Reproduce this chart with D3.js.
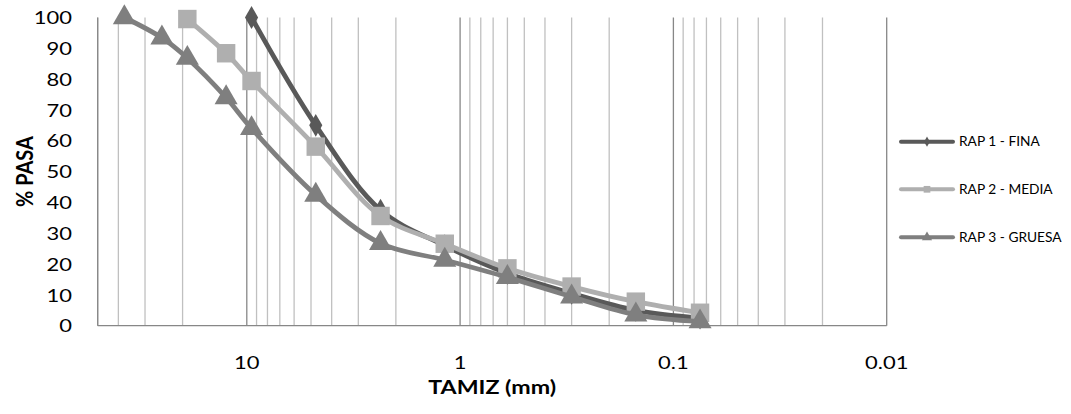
<!DOCTYPE html>
<html>
<head>
<meta charset="utf-8">
<style>
  body { margin: 0; background: white; font-family: Lato, "Open Sans", sans-serif; }
  svg text { fill: #000; }
</style>
<script src="https://cdn.jsdelivr.net/npm/d3@7"></script>
</head>
<body>
<svg id="chart" width="1071" height="414"></svg>
<script>
// sieve sizes (mm)
const tamiz = [37.5, 25, 19, 12.5, 9.5, 4.75, 2.36, 1.18, 0.6, 0.3, 0.15, 0.075];
// % passing, null = no data
const rap1 = [null, null, null, null, 100, 65, 37.5, 26, 17, 10.5, 5, 2.5];
const rap2 = [null, null, 99.5, 88.4, 79.4, 58.1, 35.6, 26.6, 18.6, 12.7, 7.8, 4.2];
const rap3 = [100, 93.4, 86.8, 74, 64, 42.4, 26.7, 21.3, 15.7, 9.4, 3.5, 1.3];
const seriesNames = ["RAP 1 - FINA", "RAP 2 - MEDIA", "RAP 3 - GRUESA"];
const yTicks = [0, 10, 20, 30, 40, 50, 60, 70, 80, 90, 100];
const xLabels = [10, 1, 0.1, 0.01];

const series = [
  {name: seriesNames[0], values: rap1, color: "#595959", shape: "diamond"},
  {name: seriesNames[1], values: rap2, color: "#afafaf", shape: "square"},
  {name: seriesNames[2], values: rap3, color: "#7f7f7f", shape: "triangle"}
];

const svg = d3.select("#chart");
const pLeft = 97.7, pRight = 886.7, pTop = 17.5, pBottom = 325.7;
const sx = 1.22; // text in the picture is a bit wide

const x = d3.scaleLog().domain([50, 0.01]).range([pLeft, pRight]);
const y = d3.scaleLinear().domain([0, 100]).range([pBottom, pTop]);

// vertical log gridlines
let grid = [];
for (let e = -2; e <= 1; e++) {
  for (let m = 1; m <= 9; m++) {
    let v = m * Math.pow(10, e);
    if (v <= 50 && v >= 0.01) grid.push(v);
  }
}
svg.append("g").selectAll("line").data(grid).enter().append("line")
  .attr("x1", d => x(d)).attr("x2", d => x(d))
  .attr("y1", pTop).attr("y2", pBottom)
  .attr("stroke", d => xLabels.includes(+d.toPrecision(3)) ? "#878787" : "#c0c0c0")
  .attr("stroke-width", 1.3);

// axis lines
svg.append("line").attr("x1", pLeft).attr("x2", pLeft).attr("y1", pTop).attr("y2", pBottom)
  .attr("stroke", "#878787").attr("stroke-width", 1.3);
svg.append("line").attr("x1", pLeft).attr("x2", pRight).attr("y1", pBottom).attr("y2", pBottom)
  .attr("stroke", "#878787").attr("stroke-width", 1.3);

// y tick labels
svg.append("g").selectAll("text").data(yTicks).enter().append("text")
  .attr("transform", d => "translate(72," + y(d) + ") scale(" + sx + ",1)")
  .attr("dy", "0.37em")
  .attr("text-anchor", "end").style("font-size", "18px")
  .text(d => d);

// x tick labels
svg.append("g").selectAll("text").data(xLabels).enter().append("text")
  .attr("transform", d => "translate(" + x(d) + ",369) scale(" + sx + ",1)")
  .attr("text-anchor", "middle").style("font-size", "18px")
  .text(d => d);

// axis titles
svg.append("text")
  .attr("transform", "translate(" + ((pLeft + pRight) / 2) + ",394) scale(" + sx + ",1)")
  .attr("text-anchor", "middle").style("font-size", "19px").style("font-weight", "bold")
  .text("TAMIZ (mm)");
svg.append("text")
  .attr("transform", "translate(33," + ((pTop + pBottom) / 2) + ") rotate(-90) scale(1.05," + sx + ")")
  .attr("text-anchor", "middle").style("font-size", "19px").style("font-weight", "bold")
  .text("% PASA");

const symbols = {diamond: d3.symbolDiamond, square: d3.symbolSquare, triangle: d3.symbolTriangle};
const markerSize = {diamond: 150, square: 340, triangle: 230};

const line = d3.line()
  .defined(d => d.v != null)
  .x(d => x(d.t)).y(d => y(d.v))
  .curve(d3.curveCatmullRom.alpha(0.5));

series.forEach(s => {
  const pts = tamiz.map((t, i) => ({t: t, v: s.values[i]}));
  svg.append("path").datum(pts)
    .attr("d", line)
    .attr("fill", "none").attr("stroke", s.color)
    .attr("stroke-width", 4.8).attr("stroke-linejoin", "round").attr("stroke-linecap", "round");
  svg.append("g").selectAll("path").data(pts.filter(d => d.v != null)).enter().append("path")
    .attr("transform", d => "translate(" + x(d.t) + "," + y(d.v) + ")")
    .attr("d", d3.symbol().type(symbols[s.shape]).size(markerSize[s.shape]))
    .attr("fill", s.color);
});

// legend
const legY = [141.7, 189.3, 237.3];
series.forEach((s, i) => {
  const g = svg.append("g").attr("transform", "translate(0," + legY[i] + ")");
  g.append("line").attr("x1", 901).attr("x2", 953).attr("y1", 0).attr("y2", 0)
    .attr("stroke", s.color).attr("stroke-width", 4).attr("stroke-linecap", "round");
  g.append("path").attr("transform", "translate(927,0)")
    .attr("d", d3.symbol().type(symbols[s.shape]).size(s.shape == "diamond" ? 30 : 45))
    .attr("fill", s.color);
  g.append("text").attr("transform", "translate(959,0) scale(1.1,1)").attr("dy", "0.36em")
    .style("font-size", "12.5px").text(s.name);
});
</script>
</body>
</html>
